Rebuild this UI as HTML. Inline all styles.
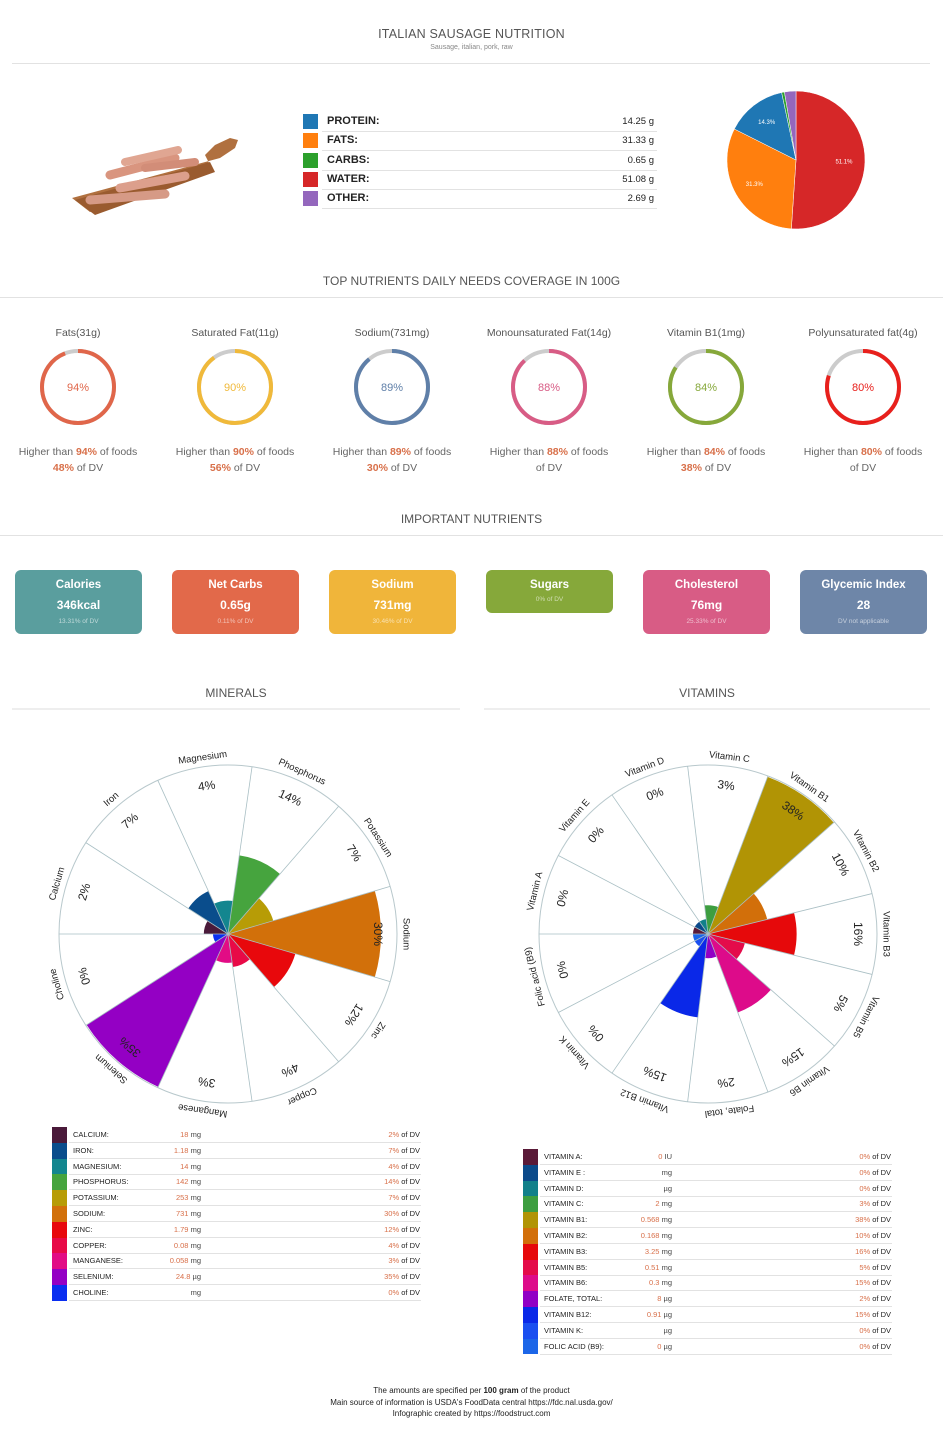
<!DOCTYPE html>
<html><head><meta charset="utf-8">
<style>
body{margin:0;background:#fff;width:950px;height:1435px;position:relative;overflow:hidden;font-family:"Liberation Sans",sans-serif;color:#333}
.a{position:absolute}
.c{position:absolute;text-align:center}
.hr{position:absolute;height:1px;background:#e2e2e2}
.card{position:absolute;width:127px;border-radius:6px;color:#fff;text-align:center}
.card b{display:block;font-size:11.5px;margin-top:9px}
.card i{display:block;font-style:normal;font-size:12px;font-weight:bold;margin-top:7px}
.card s{display:block;text-decoration:none;font-size:6.5px;opacity:.6;margin-top:6px}
.o{color:#d8704a}
</style></head><body>
<div class="c" style="left:0;width:943px;top:27px;font-size:12.5px;color:#555;letter-spacing:.2px">ITALIAN SAUSAGE NUTRITION</div>
<div class="c" style="left:0;width:943px;top:44px;font-size:7px;color:#888">Sausage, italian, pork, raw</div>
<div class="hr" style="left:12px;width:918px;top:63px"></div>

<svg class="a" style="left:70px;top:120px" width="170" height="100">
<path d="M2 78 L150 38 L165 28 L168 20 L160 18 L145 25 L135 35 L140 45 L20 92 Z" fill="#b0703f"/>
<path d="M5 80 L140 42 L145 52 L25 95 Z" fill="#9a5b2f"/>
<g stroke-linecap="round" fill="none">
<line x1="20" y1="80" x2="95" y2="74" stroke="#d69a86" stroke-width="9"/>
<line x1="50" y1="68" x2="115" y2="56" stroke="#dc9f8c" stroke-width="9"/>
<line x1="40" y1="55" x2="105" y2="38" stroke="#d9957f" stroke-width="9"/>
<line x1="55" y1="42" x2="108" y2="30" stroke="#e0a692" stroke-width="8"/>
<line x1="75" y1="48" x2="125" y2="42" stroke="#d28d78" stroke-width="8"/>
</g></svg>

<div id="macro"></div>
<svg class="a" id="pie" style="left:720px;top:84px" width="152" height="152"></svg>

<div class="c" style="left:0;width:943px;top:274px;font-size:12px;color:#555">TOP NUTRIENTS DAILY NEEDS COVERAGE IN 100G</div>
<div class="hr" style="left:0;width:943px;top:297px"></div>
<div id="circ"></div>

<div class="c" style="left:0;width:943px;top:512px;font-size:12px;color:#555">IMPORTANT NUTRIENTS</div>
<div class="hr" style="left:0;width:943px;top:535px"></div>
<div class="card" style="left:15px;top:570px;height:64px;background:#5a9e9e"><b>Calories</b><i>346kcal</i><s>13.31% of DV</s></div>
<div class="card" style="left:172px;top:570px;height:64px;background:#e2694a"><b>Net Carbs</b><i>0.65g</i><s>0.11% of DV</s></div>
<div class="card" style="left:329px;top:570px;height:64px;background:#f0b53a"><b>Sodium</b><i>731mg</i><s>30.46% of DV</s></div>
<div class="card" style="left:486px;top:570px;height:43px;background:#86a83a"><b>Sugars</b><s style="margin-top:5px">0% of DV</s></div>
<div class="card" style="left:643px;top:570px;height:64px;background:#d85c85"><b>Cholesterol</b><i>76mg</i><s>25.33% of DV</s></div>
<div class="card" style="left:800px;top:570px;height:64px;background:#6e86a8"><b>Glycemic Index</b><i>28</i><s>DV not applicable</s></div>

<div class="c" style="left:12px;width:448px;top:686px;font-size:12px;color:#555">MINERALS</div>
<div class="c" style="left:484px;width:446px;top:686px;font-size:12px;color:#555">VITAMINS</div>
<div class="hr" style="left:12px;width:448px;top:708px;height:2px;background:#eee"></div>
<div class="hr" style="left:484px;width:446px;top:708px;height:2px;background:#eee"></div>

<svg class="a" id="pm" style="left:0;top:720px" width="475" height="410"></svg>
<svg class="a" id="pv" style="left:475px;top:720px" width="475" height="410"></svg>
<div id="tm"></div><div id="tv"></div>

<div class="c" style="left:0;width:943px;top:1385px;font-size:8px;line-height:11.5px;color:#222">The amounts are specified per <b>100 gram</b> of the product<br>Main source of information is USDA's FoodData central https://fdc.nal.usda.gov/<br>Infographic created by https://foodstruct.com</div>

<script>
var NS="http://www.w3.org/2000/svg";
function el(svg,tag,attrs,txt){var e=document.createElementNS(NS,tag);for(var k in attrs)e.setAttribute(k,attrs[k]);if(txt!=null)e.textContent=txt;svg.appendChild(e);return e;}
// macro table
var mac=[["PROTEIN:","14.25 g","#1f77b4"],["FATS:","31.33 g","#ff7f0e"],["CARBS:","0.65 g","#2ca02c"],["WATER:","51.08 g","#d62728"],["OTHER:","2.69 g","#9467bd"]];
var h="";mac.forEach(function(m,i){var y=114+i*19.3;
h+='<div class="a" style="left:303px;top:'+y+'px;width:15px;height:15px;background:'+m[2]+'"></div>';
h+='<div class="a" style="left:327px;top:'+(y+1)+'px;font-size:11px;font-weight:bold;color:#222">'+m[0]+'</div>';
h+='<div class="a" style="left:560px;width:94px;text-align:right;top:'+(y+2)+'px;font-size:9.5px;color:#222">'+m[1]+'</div>';
h+='<div class="hr" style="left:322px;width:335px;top:'+(y+17)+'px"></div>';});
document.getElementById("macro").innerHTML=h;
// pie
var pie=document.getElementById("pie"),cx=76,cy=76,R=69;
var ps=[[51.08,"#d62728","51.1%"],[31.33,"#ff7f0e","31.3%"],[14.25,"#1f77b4","14.3%"],[0.65,"#2ca02c",""],[2.69,"#9467bd",""]];
var a0=-Math.PI/2;ps.forEach(function(p){var a1=a0+p[0]/100*2*Math.PI;var lg=(a1-a0)>Math.PI?1:0;
el(pie,"path",{d:"M"+cx+" "+cy+"L"+(cx+R*Math.cos(a0))+" "+(cy+R*Math.sin(a0))+"A"+R+" "+R+" 0 "+lg+" 1 "+(cx+R*Math.cos(a1))+" "+(cy+R*Math.sin(a1))+"Z",fill:p[1],stroke:"#fff","stroke-width":0.5});
if(p[2]){var am=(a0+a1)/2;el(pie,"text",{x:cx+48*Math.cos(am),y:cy+48*Math.sin(am)+2,"font-size":6,fill:"#fff","text-anchor":"middle"},p[2]);}
a0=a1;});
// circles
var cs=[["Fats(31g)",94,"48%","#e0664a"],["Saturated Fat(11g)",90,"56%","#f0b93a"],["Sodium(731mg)",89,"30%","#5f7fa8"],["Monounsaturated Fat(14g)",88,"","#d85c85"],["Vitamin B1(1mg)",84,"38%","#86a83a"],["Polyunsaturated fat(4g)",80,"","#e8201c"]];
h="";cs.forEach(function(c,i){var x=78+i*157,C=2*Math.PI*36;
h+='<div class="c" style="left:'+(x-80)+'px;width:160px;top:327px;font-size:10.5px;color:#555">'+c[0]+'</div>';
h+='<svg class="a" style="left:'+(x-40)+'px;top:347px" width="80" height="80"><circle cx="40" cy="40" r="36" fill="none" stroke="#ccc" stroke-width="4"/><circle cx="40" cy="40" r="36" fill="none" stroke="'+c[3]+'" stroke-width="4" stroke-dasharray="'+(C*c[1]/100)+' '+C+'" transform="rotate(-90 40 40)"/><text x="40" y="44" text-anchor="middle" font-size="11" fill="'+c[3]+'">'+c[1]+'%</text></svg>';
h+='<div class="c" style="left:'+(x-80)+'px;width:160px;top:445px;font-size:10.5px;line-height:15.5px;color:#666">Higher than <b class="o">'+c[1]+'%</b> of foods<br><b class="o">'+c[2]+'</b> of DV</div>';});
document.getElementById("circ").innerHTML=h;
// polar
function polar(id,cx,cy,R,items,start){var s=document.getElementById(id);var n=items.length,step=360/n;
items.forEach(function(it,i){var a0=(start+i*step)*Math.PI/180,a1=(start+(i+1)*step)*Math.PI/180;
var r=Math.min(15+4.6*it[1],R-1);
el(s,"path",{d:"M"+cx+" "+cy+"L"+(cx+r*Math.cos(a0))+" "+(cy+r*Math.sin(a0))+"A"+r+" "+r+" 0 0 1 "+(cx+r*Math.cos(a1))+" "+(cy+r*Math.sin(a1))+"Z",fill:it[2]});});
el(s,"circle",{cx:cx,cy:cy,r:R,fill:"none",stroke:"#b8c8cc","stroke-width":1});
items.forEach(function(it,i){var a=(start+i*step)*Math.PI/180;
el(s,"line",{x1:cx,y1:cy,x2:cx+R*Math.cos(a),y2:cy+R*Math.sin(a),stroke:"#a9bfc4","stroke-width":0.8});});
items.forEach(function(it,i){var ad=start+(i+0.5)*step,a=ad*Math.PI/180;
var x=cx+(R+9)*Math.cos(a),y=cy+(R+9)*Math.sin(a);
el(s,"text",{x:x,y:y,"font-size":9.5,"text-anchor":"middle","dominant-baseline":"middle",fill:"#222",transform:"rotate("+(ad+90)+" "+x+" "+y+")"},it[0]);
x=cx+(R-20)*Math.cos(a);y=cy+(R-20)*Math.sin(a);
el(s,"text",{x:x,y:y,"font-size":12,"text-anchor":"middle","dominant-baseline":"middle",fill:"#222",transform:"rotate("+(ad+90)+" "+x+" "+y+")"},it[1]+"%");});}
var mins=[["Calcium",2,"#4a1a3a"],["Iron",7,"#0a4d8c"],["Magnesium",4,"#13868f"],["Phosphorus",14,"#46a43e"],["Potassium",7,"#b79c06"],["Sodium",30,"#d2700a"],["Zinc",12,"#e8080c"],["Copper",4,"#e80a47"],["Manganese",3,"#e20c85"],["Selenium",35,"#9400c4"],["Choline",0,"#0a2ef0"]];
polar("pm",228,214,169,mins,180);
var vits=[["Vitamin A",0,"#5a1a38"],["Vitamin E",0,"#0b4a8a"],["Vitamin D",0,"#11808a"],["Vitamin C",3,"#3d9e40"],["Vitamin B1",38,"#b19405"],["Vitamin B2",10,"#d26f0a"],["Vitamin B3",16,"#e6090b"],["Vitamin B5",5,"#e40b4a"],["Vitamin B6",15,"#dd0b8a"],["Folate, total",2,"#9100c5"],["Vitamin B12",15,"#0a28e8"],["Vitamin K",0,"#1a4ff0"],["Folic acid (B9)",0,"#1c66e8"]];
polar("pv",233,214,169,vits,180);
// tables
function table(id,x0,y0,rows,amts,units){var h="";rows.forEach(function(r,i){var y=y0+i*15.8;
h+='<div class="a" style="left:'+x0+'px;top:'+(y-8)+'px;width:15px;height:15.8px;background:'+r[2]+'"></div>';
h+='<div class="a" style="left:'+(x0+21)+'px;top:'+(y-5)+'px;font-size:7.5px;color:#222">'+units[i][0]+'</div>';
h+='<div class="a" style="left:'+(x0+80)+'px;width:69px;text-align:right;top:'+(y-5)+'px;font-size:7.5px;color:#444"><span class="o">'+units[i][1]+'</span> '+units[i][2]+'</div>';
h+='<div class="a" style="left:'+(x0+268)+'px;width:100px;text-align:right;top:'+(y-5)+'px;font-size:7.5px;color:#222"><span class="o">'+r[1]+'%</span> of DV</div>';
h+='<div class="hr" style="left:'+(x0+17)+'px;width:352px;top:'+(y+7)+'px"></div>';});
document.getElementById(id).innerHTML=h;}
table("tm",52,1135,mins,null,[["CALCIUM:","18","mg"],["IRON:","1.18","mg"],["MAGNESIUM:","14","mg"],["PHOSPHORUS:","142","mg"],["POTASSIUM:","253","mg"],["SODIUM:","731","mg"],["ZINC:","1.79","mg"],["COPPER:","0.08","mg"],["MANGANESE:","0.058","mg"],["SELENIUM:","24.8","µg"],["CHOLINE:","","mg"]]);
table("tv",523,1157,vits,null,[["VITAMIN A:","0","IU"],["VITAMIN E :","","mg"],["VITAMIN D:","","µg"],["VITAMIN C:","2","mg"],["VITAMIN B1:","0.568","mg"],["VITAMIN B2:","0.168","mg"],["VITAMIN B3:","3.25","mg"],["VITAMIN B5:","0.51","mg"],["VITAMIN B6:","0.3","mg"],["FOLATE, TOTAL:","8","µg"],["VITAMIN B12:","0.91","µg"],["VITAMIN K:","","µg"],["FOLIC ACID (B9):","0","µg"]]);
</script>
</body></html>
